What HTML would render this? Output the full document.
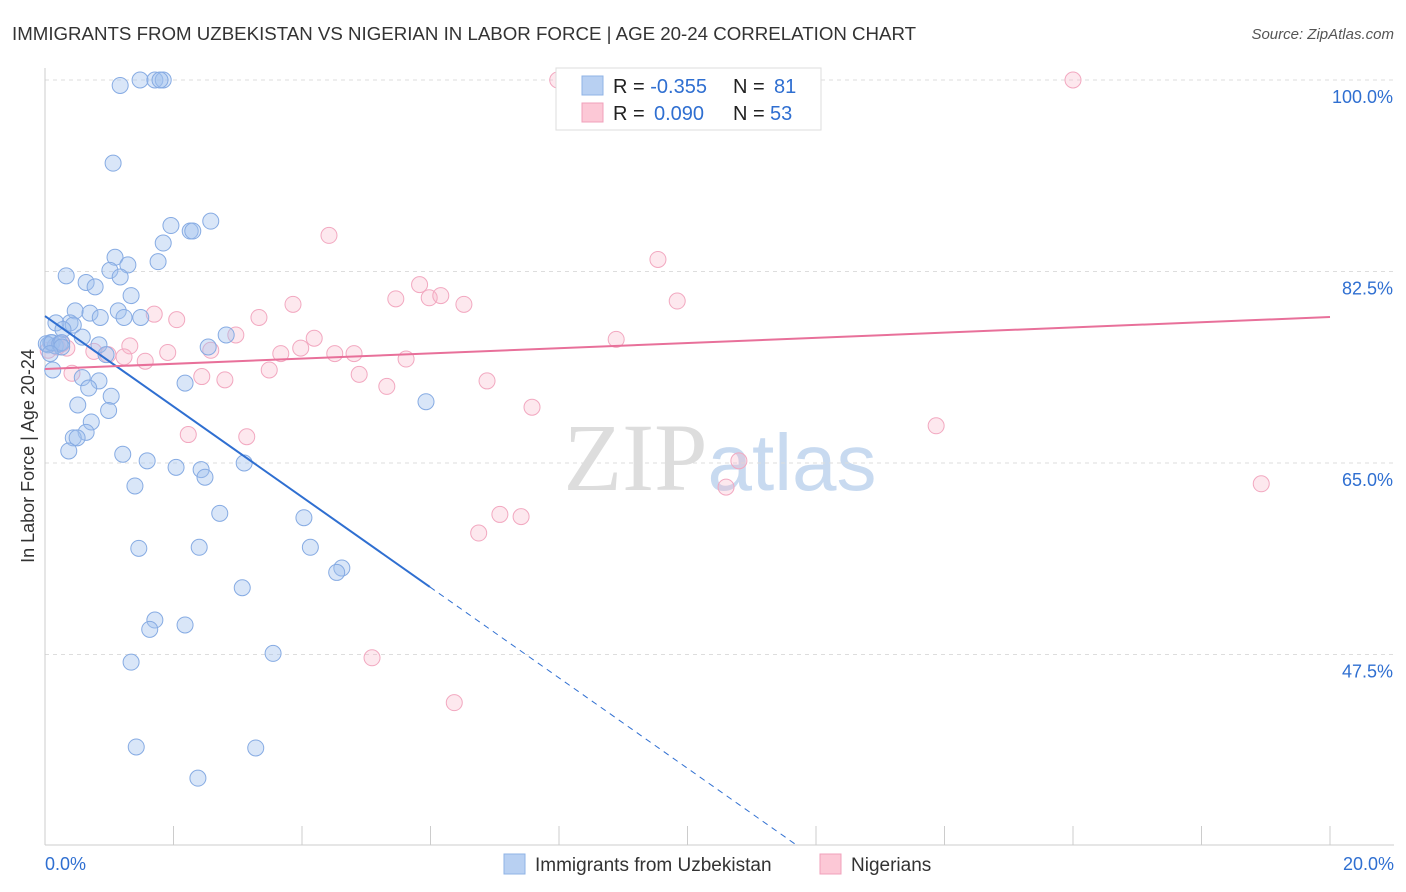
<!DOCTYPE html>
<html><head><meta charset="utf-8"><style>
body{margin:0;background:#fff;font-family:"Liberation Sans",sans-serif;}
svg{display:block}
</style></head><body>
<svg id="chart" width="1406" height="892" xmlns="http://www.w3.org/2000/svg">
<text x="12" y="40" font-size="18.7" fill="#333">IMMIGRANTS FROM UZBEKISTAN VS NIGERIAN IN LABOR FORCE | AGE 20-24 CORRELATION CHART</text>
<text x="1394" y="39" font-size="15" fill="#555" font-style="italic" text-anchor="end">Source: ZipAtlas.com</text>
<text x="720" y="490" font-size="96" text-anchor="middle" fill="#ddd" font-family="Liberation Serif,serif">ZIP<tspan fill="#c8daf0" font-family="Liberation Sans,sans-serif" font-size="80">atlas</tspan></text>
<g id="grid"></g><g id="axes"></g><g id="pts"></g><g id="lines"></g>
<text transform="translate(34,456) rotate(-90)" font-size="18" fill="#333" text-anchor="middle">In Labor Force | Age 20-24</text>
<g>
<rect x="556" y="68" width="265" height="62" fill="#fff" stroke="#ddd"/>
<rect x="582" y="76" width="21" height="19" fill="#b8d0f2" stroke="#8fb3e6"/>
<rect x="582" y="103" width="21" height="19" fill="#fcc8d6" stroke="#f0a0bb"/>
<text x="613" y="93" font-size="20" fill="#222">R = <tspan fill="#2f6fd1">-0.355</tspan><tspan x="733">N = </tspan><tspan x="774" fill="#2f6fd1">81</tspan></text>
<text x="613" y="120" font-size="20" fill="#222">R = <tspan x="654" fill="#2f6fd1">0.090</tspan><tspan x="733">N = </tspan><tspan x="770" fill="#2f6fd1">53</tspan></text>
</g>
<g>
<rect x="504" y="854" width="21" height="20" fill="#b8d0f2" stroke="#8fb3e6"/>
<text x="535" y="871" font-size="19" fill="#333">Immigrants from Uzbekistan</text>
<rect x="820" y="854" width="21" height="20" fill="#fcc8d6" stroke="#f0a0bb"/>
<text x="851" y="871" font-size="19" fill="#333">Nigerians</text>
</g>
</svg>
<script>
const yTicks=[100,82.5,65,47.5];
const yTickLabels=["100.0%","82.5%","65.0%","47.5%"];
const xLabels=["0.0%","20.0%"];
const blueX=[1.17,1.48,1.71,1.84,1.79,1.06,2.58,1.96,2.26,2.30,1.84,1.09,1.76,1.01,1.29,0.33,1.17,0.64,0.78,1.34,0.47,0.70,1.14,0.86,1.23,1.49,0.39,0.17,0.44,0.28,0.58,0.09,0.16,0.84,0.95,2.54,2.82,0.12,0.58,0.84,2.18,0.68,1.03,0.51,0.99,5.93,0.72,0.64,0.44,0.50,0.37,1.21,1.59,2.04,2.43,2.49,3.10,1.40,2.72,4.03,1.46,2.40,4.13,4.62,4.54,3.07,1.71,1.63,2.18,3.55,1.34,1.42,3.28,2.38,0.05,0.02,0.11,0.23,0.26,0.26,0.08];
const blueY=[99.5,100,100,100,100,92.4,87.1,86.7,86.2,86.2,85.1,83.8,83.4,82.6,83.1,82.1,82.0,81.5,81.1,80.3,78.9,78.7,78.9,78.3,78.3,78.3,77.8,77.8,77.6,77.2,76.5,76.0,75.7,75.8,74.9,75.6,76.7,73.5,72.8,72.5,72.3,71.85,71.1,70.3,69.8,70.6,68.75,67.8,67.3,67.3,66.1,65.8,65.2,64.6,64.4,63.7,65.0,62.9,60.4,60.0,57.2,57.3,57.3,55.4,55.0,53.6,50.65,49.8,50.2,47.6,46.8,39.05,38.96,36.2,75.8,75.9,76.0,75.9,76.0,75.6,75.0];
const pinkX=[7.98,9.15,11.00,16.00,4.42,9.54,5.83,5.46,5.98,6.16,6.52,9.84,3.86,3.33,1.70,2.05,2.97,4.19,8.89,2.58,3.98,3.67,4.51,4.81,5.62,1.91,1.56,1.32,1.23,0.98,0.76,0.34,0.19,0.05,0.42,0.26,3.49,4.89,2.44,2.80,5.32,6.88,7.58,13.87,2.23,3.14,10.80,10.60,18.93,7.08,7.41,6.75,5.09,6.37];
const pinkY=[100,100,100,100,85.8,83.6,81.3,80.0,80.1,80.3,79.5,79.8,79.5,78.3,78.6,78.1,76.7,76.4,76.3,75.3,75.5,75.0,75.0,75.0,74.5,75.1,74.3,75.7,74.7,74.9,75.2,75.5,75.6,75.3,73.2,75.9,73.5,73.1,72.9,72.6,72.0,72.5,70.1,68.4,67.6,67.4,65.2,62.8,63.1,60.3,60.1,58.6,47.2,43.1];
const blueTrend=[78.43,-4.133];
const pinkTrend=[73.59,0.2375];
const NS="http://www.w3.org/2000/svg";
const X=v=>45+v*1285/20, Y=v=>80+(100-v)*10.943;
function mk(t,a,p){const e=document.createElementNS(NS,t);for(const k in a)e.setAttribute(k,a[k]);document.getElementById(p).appendChild(e);return e;}
yTicks.forEach((t,i)=>{
 const g=mk('line',{x1:45,x2:1394,y1:Y(t),y2:Y(t),stroke:'#ddd','stroke-dasharray':'4,4'},'grid');
 
 
 const l=mk('text',{x:1393,y:Y(t)+23,'font-size':18,fill:'#2f6fd1','text-anchor':'end'},'axes');l.textContent=yTickLabels[i];
 
 
});
mk('line',{x1:45,x2:45,y1:68,y2:845,stroke:'#ccc'},'axes');
mk('line',{x1:45,x2:1394,y1:845,y2:845,stroke:'#ccc'},'axes');
for(let i=0;i<=10;i++){const t=mk('line',{x1:X(i*2),x2:X(i*2),y1:826,y2:845,stroke:'#ccc'},'axes');
 
 }
[[0,'start',45],[20,'end',1394]].forEach((d,i)=>{const t=mk('text',{x:d[2],y:870,'font-size':18,fill:'#2f6fd1','text-anchor':d[1]},'axes');t.textContent=xLabels[i];
 
 });
pinkX.forEach((x,i)=>{const c=mk('circle',{cx:X(x),cy:Y(pinkY[i]),r:8,fill:'rgba(248,180,200,0.3)',stroke:'#f2a8c0','stroke-width':1},'pts');
 
 });
blueX.forEach((x,i)=>{const c=mk('circle',{cx:X(x),cy:Y(blueY[i]),r:8,fill:'rgba(160,192,238,0.4)',stroke:'#86abe3','stroke-width':1},'pts');
 
 });
const bEnd=5.99, bX2=(blueTrend[0]-30.0)/(-blueTrend[1]);
let l=mk('line',{x1:X(0),y1:Y(blueTrend[0]),x2:X(bEnd),y2:Y(blueTrend[0]+blueTrend[1]*bEnd),stroke:'#2f6fd1','stroke-width':2},'lines');


l=mk('line',{x1:X(bEnd),y1:Y(blueTrend[0]+blueTrend[1]*bEnd),x2:X(bX2),y2:Y(30.0),stroke:'#2f6fd1','stroke-width':1,'stroke-dasharray':'6,5'},'lines');


l=mk('line',{x1:X(0),y1:Y(pinkTrend[0]),x2:X(20),y2:Y(pinkTrend[0]+pinkTrend[1]*20),stroke:'#e8709a','stroke-width':2},'lines');


</script>
</body></html>
